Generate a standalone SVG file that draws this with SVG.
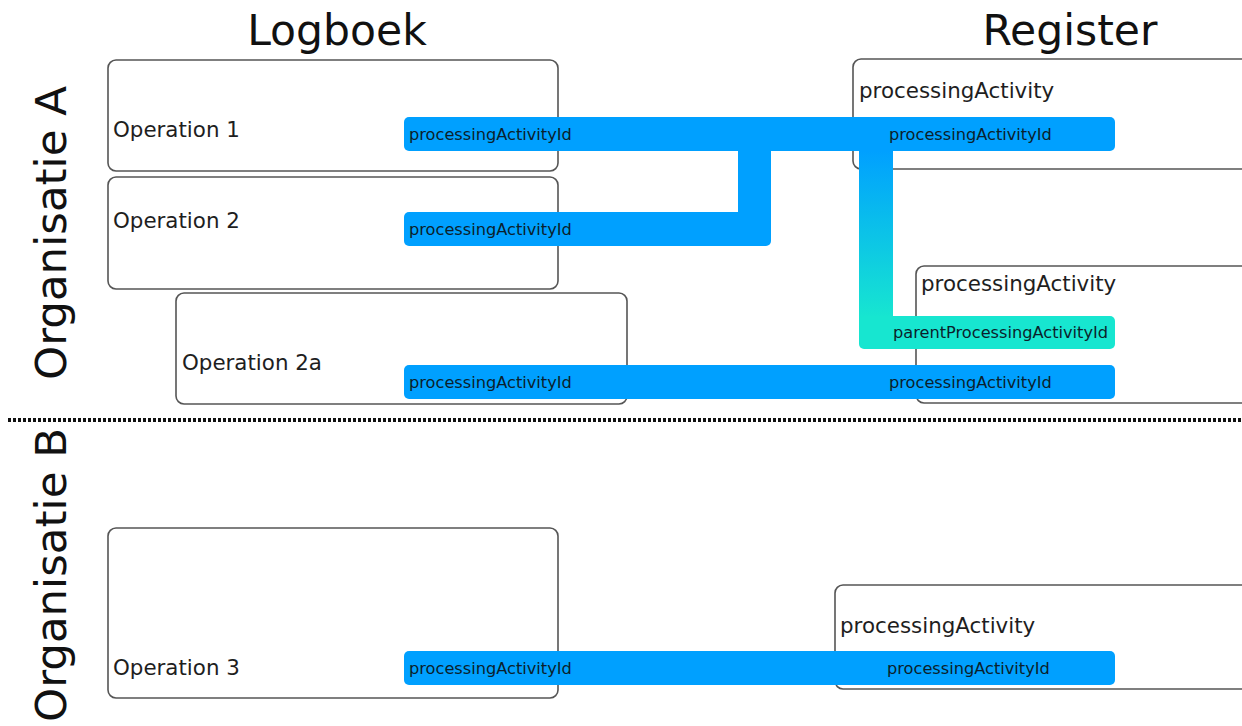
<svg xmlns="http://www.w3.org/2000/svg" width="1242" height="726" viewBox="0 0 1242 726">
<defs>
<style>
.box{fill:#fff;stroke:#555;stroke-width:1.6}
.lbl{font-family:"DejaVu Sans",Verdana,sans-serif;font-size:21.4px;fill:#1e1e1e}
.title{font-family:"DejaVu Sans",Verdana,sans-serif;font-size:42.5px;fill:#111}
.vt{font-family:"DejaVu Sans",Verdana,sans-serif;font-size:43.5px;fill:#111}
.bar{fill:#00a0ff}
.teal{fill:#17e6d0}
.bt{font-family:"DejaVu Sans",Verdana,sans-serif;font-size:16.2px;fill:#0b1f2c}
</style>
<linearGradient id="g1" gradientUnits="userSpaceOnUse" x1="0" y1="151" x2="0" y2="318">
<stop offset="0" stop-color="#00a0ff"/>
<stop offset="1" stop-color="#17e6d0"/>
</linearGradient>
</defs>
<rect width="1242" height="726" fill="#fff"/>
<g id="titles">
<text class="title" x="337" y="45" text-anchor="middle">Logboek</text>
<text class="title" x="1070" y="45" text-anchor="middle">Register</text>
<text class="vt" transform="translate(66,233) rotate(-90)" text-anchor="middle">Organisatie A</text>
<text class="vt" transform="translate(66,575) rotate(-90)" text-anchor="middle">Organisatie B</text>
</g>
<line x1="8" y1="420" x2="1242" y2="420" stroke="#111" stroke-width="4" stroke-dasharray="3 2"/>
<g id="op1"><rect class="box" x="108" y="60" width="450" height="111" rx="8"/><text class="lbl" x="113" y="137">Operation 1</text></g>
<g id="op2"><rect class="box" x="108" y="177" width="450" height="112" rx="8"/><text class="lbl" x="113" y="228">Operation 2</text></g>
<g id="op2a"><rect class="box" x="176" y="293" width="451" height="111" rx="8"/><text class="lbl" x="182" y="370">Operation 2a</text></g>
<g id="op3"><rect class="box" x="108" y="528" width="450" height="170" rx="8"/><text class="lbl" x="113" y="675">Operation 3</text></g>
<g id="pa1"><rect class="box" x="853" y="59" width="420" height="110" rx="8"/><text class="lbl" x="859" y="98">processingActivity</text></g>
<g id="pa2"><rect class="box" x="916" y="266" width="360" height="137" rx="8"/><text class="lbl" x="921" y="291">processingActivity</text></g>
<g id="pa3"><rect class="box" x="835" y="585" width="440" height="104" rx="8"/><text class="lbl" x="840" y="633">processingActivity</text></g>
<g id="connectors">
<rect x="859" y="145" width="34" height="180" fill="url(#g1)"/>
<rect class="teal" x="859" y="316" width="256" height="33" rx="5"/>
<rect class="bar" x="404" y="117" width="711" height="34" rx="5"/>
<rect class="bar" x="738" y="140" width="33" height="90"/>
<rect class="bar" x="404" y="212" width="367" height="34" rx="5"/>
<rect class="bar" x="404" y="365" width="711" height="34" rx="5"/>
<rect class="bar" x="404" y="651" width="711" height="34" rx="5"/>
<text class="bt" x="409" y="140">processingActivityId</text>
<text class="bt" x="889" y="140">processingActivityId</text>
<text class="bt" x="409" y="235">processingActivityId</text>
<text class="bt" x="893" y="338">parentProcessingActivityId</text>
<text class="bt" x="409" y="388">processingActivityId</text>
<text class="bt" x="889" y="388">processingActivityId</text>
<text class="bt" x="409" y="674">processingActivityId</text>
<text class="bt" x="887" y="674">processingActivityId</text>
</g>
</svg>
